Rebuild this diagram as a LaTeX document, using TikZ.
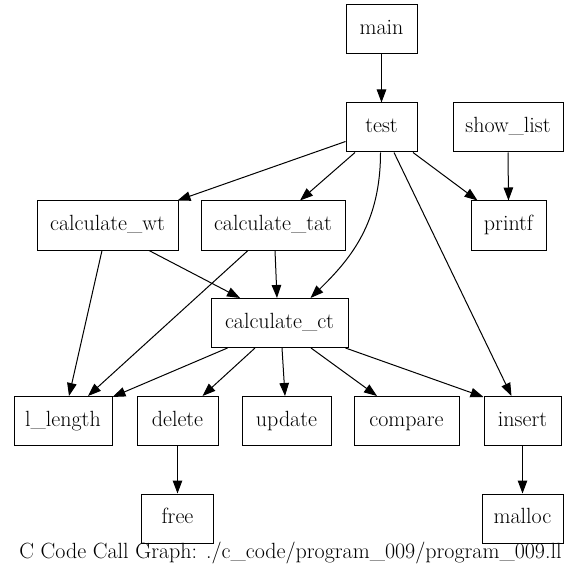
\documentclass[tikz,border=0pt]{standalone}
\usetikzlibrary{arrows.meta,calc}
\begin{document}
\begin{tikzpicture}[x=1pt,y=-1pt,
  fn/.style={draw,rectangle,line width=1pt,minimum height=49pt,inner sep=0pt,text height=15pt,text depth=5pt,font=\fontsize{22}{26}\selectfont},
  call/.style={line width=1pt,-{Triangle[length=13pt,width=9.5pt]}},
  lbl/.style={inner sep=0pt,text height=15pt,text depth=5pt,font=\fontsize{22}{26}\selectfont}]
\useasboundingbox (0,0) rectangle (580,577);
\node[fn,minimum width=71pt] (main) at (381.5,29.5) {main};
\node[fn,minimum width=71pt] (test) at (381.5,127.5) {test};
\node[fn,minimum width=110pt] (show_list) at (508,127.5) {show\_list};
\node[fn,minimum width=141pt] (calculate_wt) at (107.5,225.5) {calculate\_wt};
\node[fn,minimum width=144pt] (calculate_tat) at (273,225.5) {calculate\_tat};
\node[fn,minimum width=75pt] (printf) at (508.5,225.5) {printf};
\node[fn,minimum width=137pt] (calculate_ct) at (279.5,323) {calculate\_ct};
\node[fn,minimum width=98pt] (l_length) at (63,421) {l\_length};
\node[fn,minimum width=81pt] (delete) at (177.5,421) {delete};
\node[fn,minimum width=89pt] (update) at (286.5,421) {update};
\node[fn,minimum width=105pt] (compare) at (406.5,421) {compare};
\node[fn,minimum width=77pt] (insert) at (522.5,421) {insert};
\node[fn,minimum width=72pt] (free) at (177.5,518.5) {free};
\node[fn,minimum width=81pt] (malloc) at (522.5,518.5) {malloc};
\node[lbl] (caption) at (290.5,553) {C Code Call Graph: ./c\_code/program\_009/program\_009.ll};

\draw[call] (main.south) -- (test.north);
\draw[call] ($(test.west)+(0,14)$) -- ($(calculate_wt.north east)+(-1,0)$);
\draw[call] ($(test.south)+(-26.5,0)$) -- ($(calculate_tat.north)+(27,0)$);
\draw[call] ($(test.south)+(-1,0)$) .. controls ($(test.south)+(-1,70)$) and ($(calculate_ct.north)+(72,-40)$) .. ($(calculate_ct.north)+(31,0)$);
\draw[call] ($(test.south)+(12.5,0)$) -- ($(insert.north)+(-11,0)$);
\draw[call] ($(test.south)+(31.5,0)$) -- ($(printf.north)+(-31,0)$);
\draw[call] (show_list.south) -- (printf.north);
\draw[call] ($(calculate_wt.south)+(-5.5,0)$) -- ($(l_length.north)+(6,0)$);
\draw[call] ($(calculate_wt.south)+(41.5,0)$) -- ($(calculate_ct.north)+(-39.5,0)$);
\draw[call] ($(calculate_tat.south)+(-25,0)$) -- ($(l_length.north)+(25,0)$);
\draw[call] ($(calculate_tat.south)+(2,0)$) -- ($(calculate_ct.north)+(-2.5,0)$);
\draw[call] ($(calculate_ct.south)+(-52,0)$) -- ($(l_length.north east)+(0,1)$);
\draw[call] ($(calculate_ct.south)+(-24.5,0)$) -- ($(delete.north)+(25,0)$);
\draw[call] ($(calculate_ct.south)+(2.5,0)$) -- ($(update.north)+(-1.5,0)$);
\draw[call] ($(calculate_ct.south)+(31.5,0)$) -- ($(compare.north)+(-29.5,0)$);
\draw[call] ($(calculate_ct.south east)+(-3,0)$) -- ($(insert.north west)+(0,1)$);
\draw[call] (delete.south) -- (free.north);
\draw[call] (insert.south) -- (malloc.north);
\end{tikzpicture}
\end{document}
